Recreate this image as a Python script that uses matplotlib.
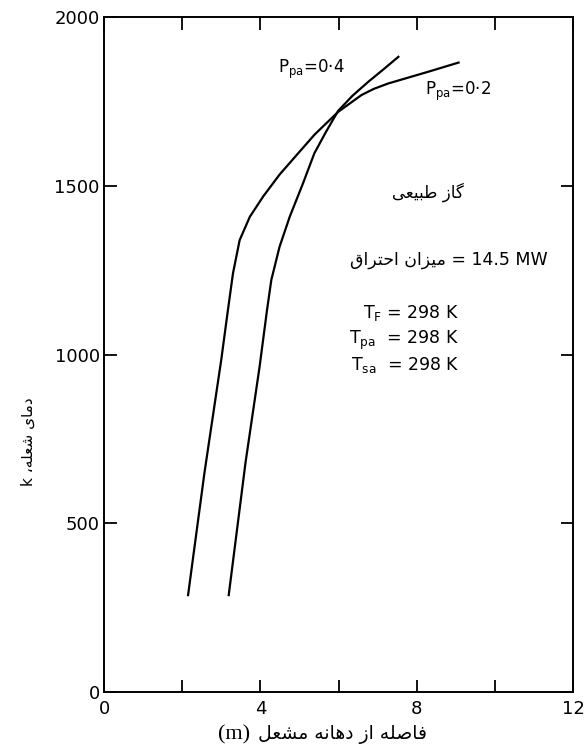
import matplotlib
matplotlib.use("Agg")
import matplotlib.pyplot as plt

plt.rcParams["font.family"] = ["DejaVu Sans"]
plt.rcParams["mathtext.fontset"] = "dejavusans"

# flame temperature vs distance from burner exit
P02_X = [2.15, 2.57, 3.00, 3.17, 3.30, 3.47, 3.73, 4.07, 4.49, 4.92, 5.39, 5.99,
         6.59, 6.90, 7.27, 8.30, 9.07]
P02_Y = [287, 650, 985, 1132, 1241, 1339, 1408, 1468, 1533, 1590, 1652, 1719,
         1769, 1787, 1803, 1838, 1865]
P04_X = [3.19, 3.62, 3.98, 4.17, 4.28, 4.49, 4.75, 5.09, 5.38, 5.68, 5.99, 6.35,
         6.76, 7.15, 7.53]
P04_Y = [287, 680, 964, 1132, 1221, 1319, 1408, 1507, 1596, 1660, 1722, 1766,
         1808, 1845, 1882]

X_TICKS = [0, 2, 4, 6, 8, 10, 12]
X_TICK_LABELS = ["0", "", "4", "", "8", "", "12"]
Y_TICKS = [0, 500, 1000, 1500, 2000]

# Persian strings written in presentation forms, visual (left-to-right) order
GAS = "\uFBFD\uFECC\uFBFF\uFE92\uFEC3 \uFEAF\uFE8E\uFB94"             # گاز طبیعی
RATE = "\uFED5\uFE8D\uFEAE\uFE98\uFEA3\uFE8D \uFEE5\uFE8D\uFEB0\uFBFF\uFEE3"  # میزان احتراق
YLABEL = "k \u060C\uFEEA\uFEE0\uFECC\uFEB7 \uFBFC\uFE8E\uFEE3\uFEA9"   # دمای شعله، k
XLABEL = ("\uFEDE\uFECC\uFEB8\uFEE3 \uFEEA\uFEE7\uFE8E\uFEEB\uFEA9 "
          "\uFEAF\uFE8D \uFEEA\uFEE0\uFEBB\uFE8E\uFED3")               # فاصله از دهانه مشعل

fig = plt.figure(figsize=(5.86, 7.49), dpi=100)
ax = fig.add_axes([0.1775, 0.0761, 0.8005, 0.9012])

ax.plot(P02_X, P02_Y, color="black", lw=1.6, solid_joinstyle="round")
ax.plot(P04_X, P04_Y, color="black", lw=1.6, solid_joinstyle="round")

ax.set_xlim(0, 12)
ax.set_ylim(0, 2000)
ax.set_xticks(X_TICKS)
ax.set_xticklabels(X_TICK_LABELS)
ax.set_yticks(Y_TICKS)
ax.tick_params(direction="in", length=9, width=1.3, top=True, right=True,
               labelsize=13, pad=3)
ax.tick_params(axis="x", pad=6)
for s in ax.spines.values():
    s.set_linewidth(1.4)

ax.text(4.45, 1834, r"$\mathregular{P_{pa}}$=0·4", fontsize=12)
ax.text(8.2, 1769, r"$\mathregular{P_{pa}}$=0·2", fontsize=12)
ax.text(8.28, 1481, GAS, fontsize=12, ha="center", va="center")
ax.text(8.81, 1280, RATE + " = 14.5 MW", fontsize=12.5, ha="center", va="center")
ax.text(9.08, 1123, r"$\mathregular{T_F}$ = 298 K", fontsize=12.5, ha="right", va="center")
ax.text(9.08, 1043, r"$\mathregular{T_{pa}}$  = 298 K", fontsize=12.5, ha="right", va="center")
ax.text(9.08, 969, r"$\mathregular{T_{sa}}$  = 298 K", fontsize=12.5, ha="right", va="center")

fig.text(28 / 586, 1 - 442 / 749, YLABEL, rotation=90, fontsize=11,
         ha="center", va="center")
fig.text(234 / 586, 1 - 735 / 749, "(m)", family="Liberation Serif",
         fontsize=16, ha="center", va="center")
fig.text(343 / 586, 1 - 735 / 749, XLABEL, fontsize=13.5, ha="center", va="center")

fig.savefig("out.png", dpi=100)
